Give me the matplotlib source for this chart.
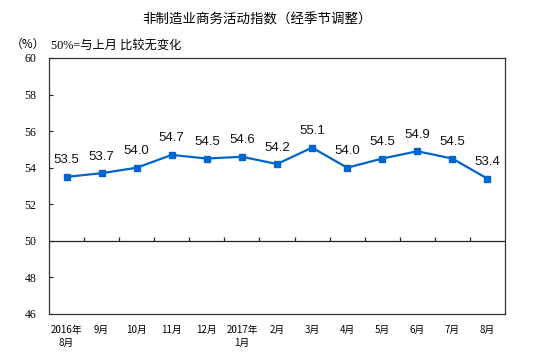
import matplotlib
matplotlib.use("Agg")
import matplotlib.pyplot as plt

plt.rcParams['font.family'] = ['Noto Sans CJK SC', 'DejaVu Sans']

title = "非制造业商务活动指数（经季节调整）"
categories = ["2016年\n8月", "9月", "10月", "11月", "12月", "2017年\n1月", "2月",
              "3月", "4月", "5月", "6月", "7月", "8月"]
values = [53.5, 53.7, 54.0, 54.7, 54.5, 54.6, 54.2, 55.1, 54.0, 54.5, 54.9, 54.5, 53.4]
yticks = [46, 48, 50, 52, 54, 56, 58, 60]

fig = plt.figure(figsize=(5.54, 3.58), dpi=100)
ax = fig.add_axes([49/554, 1-314/358, 456/554, 256/358])

x = list(range(len(values)))
ax.plot(x, values, color='#0066CC', lw=1.6, marker='s', ms=4.5, zorder=3)
for xi, v in zip(x, values):
    ax.annotate(f"{v:.1f}", (xi, v), xytext=(0, 7.5), textcoords='offset points',
                ha='center', va='bottom', fontsize=9.5, family='Liberation Sans',
                color='#111111')

ax.set_xlim(-0.5, len(values) - 0.5)
ax.set_ylim(46, 60)
ax.axhline(50, color='#222222', lw=0.9, zorder=2)
bounds = [i + 0.5 for i in range(len(values) - 1)]
ax.vlines(bounds, 50, 50.22, color='#222222', lw=0.9)

ax.set_yticks(yticks)
ax.set_yticklabels([str(t) for t in yticks], family='Liberation Serif', fontsize=8.5)
ax.tick_params(axis='y', direction='in', length=3, pad=9, color='#222222')
ax.set_xticks(x)
ax.set_xticklabels(categories, fontsize=7, linespacing=1.3)
ax.tick_params(axis='x', length=0, pad=8)

for s in ax.spines.values():
    s.set_color('#333333')
    s.set_linewidth(0.9)

fig.text(257/554, 1-20/358, title, ha='center', va='center', fontsize=9.7)
fig.text(28/554, 1-44/358, "（%）", ha='center', va='center', fontsize=8.5,
         family=['Noto Sans CJK SC', 'DejaVu Sans'])
fig.text(51/554, 1-46/358, "50%=与上月 比较无变化", ha='left', va='center', fontsize=8.8,
         family=['Liberation Serif', 'Noto Sans CJK SC'])

fig.savefig("out.png", dpi=100)
